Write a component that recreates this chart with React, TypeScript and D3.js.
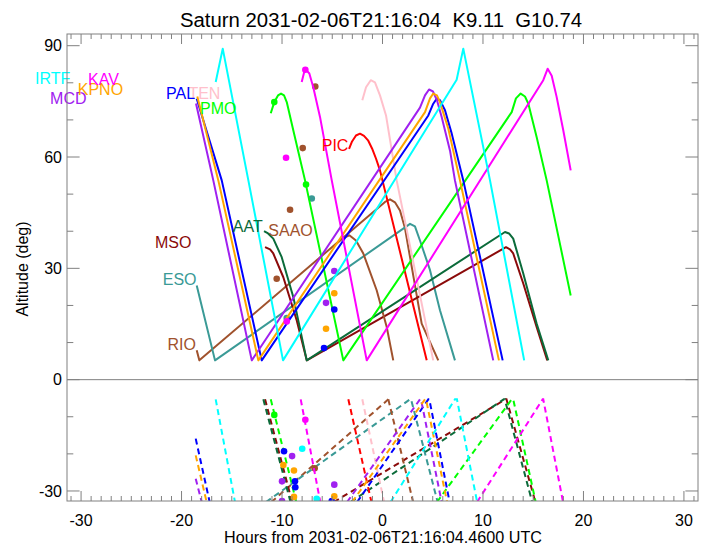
import React from 'react';
import * as d3 from 'd3';

const W = 708;
const H = 546;
const PLOT = { left: 67, right: 698, top: 34, bottom: 501 };

const xDomain: [number, number] = [-31.4, 31.4];
const yDomain: [number, number] = [-32.7, 93.15];
const xMajorTicks = [-30, -20, -10, 0, 10, 20, 30];
const yMajorTicks = [-30, 0, 30, 60, 90];
const xMinorTicks = d3.range(-31, 32, 1);
const yMinorTicks = d3.range(-30, 91, 10);

const titleText = 'Saturn 2031-02-06T21:16:04  K9.11  G10.74';
const xTitle = 'Hours from 2031-02-06T21:16:04.4600 UTC';
const yTitle = 'Altitude (deg)';

type Pt = [number, number];

// ---- solid (above-horizon) tracks: [hours, altitude] ----
const irtfSolid: Pt[] = [[-16.6, 80.2], [-15.9, 89.2], [-13.35, 53.7], [-9.9, 5.2], [7.38, 80.8], [8.04, 89.2], [10.7, 53.7], [14.1, 5.2]];
const kavSolid: Pt[] = [[-8.04, 80.2], [-7.71, 83.8], [-7.28, 82.5], [-6.89, 78.8], [-6.22, 70.8], [-5.05, 53.7], [-1.57, 5.2], [16.0, 80.7], [16.44, 83.8], [16.84, 81.9], [17.33, 76.2], [17.99, 67.2], [18.73, 56.4]];
const kpnoSolid: Pt[] = [[-18.43, 76.3], [-16.34, 53.7], [-12.36, 5.2], [4.23, 72.1], [4.73, 75.8], [5.05, 77.1], [5.42, 76.6], [5.72, 74.8], [6.55, 67.6], [7.71, 53.7], [11.59, 5.2]];
const mcdSolid: Pt[] = [[-18.56, 74.4], [-16.84, 53.7], [-13.01, 5.2], [3.73, 73.3], [4.23, 76.6], [4.63, 78.2], [5.02, 77.7], [5.42, 75.3], [5.89, 70.8], [6.72, 61.7], [7.21, 53.7], [11.02, 5.2]];
const palSolid: Pt[] = [[-18.49, 75.7], [-16.0, 53.7], [-12.02, 5.2], [4.56, 71.2], [5.02, 74.2], [5.39, 75.7], [5.72, 75.3], [6.22, 72.6], [6.89, 66.3], [8.04, 53.7], [11.96, 5.2]];
const tenSolid: Pt[] = [[-2.01, 75.3], [-1.64, 78.8], [-1.17, 80.7], [-0.75, 80.1], [-0.25, 76.6], [0.35, 71.2], [1.41, 53.7], [5.05, 5.2]];
const pmoSolid: Pt[] = [[-11.12, 71.8], [-10.77, 74.8], [-10.4, 76.6], [-10.1, 77.1], [-9.8, 76.6], [-9.53, 74.8], [-8.88, 67.2], [-7.71, 53.7], [-3.9, 5.2], [12.86, 72.1], [13.28, 75.8], [13.75, 77.1], [14.18, 76.3], [14.51, 74.4], [15.34, 65.4], [16.34, 53.7], [18.73, 22.7]];
const picSolid: Pt[] = [[-3.33, 62.2], [-3.03, 64.2], [-2.64, 65.8], [-2.24, 66.3], [-1.84, 65.7], [-1.44, 64.5], [-1.04, 62.3], [-0.65, 59.6], [-0.25, 56.4], [4.4, 5.2]];
const aatSolid: Pt[] = [[-11.79, 40.0], [-11.39, 39.4], [-10.87, 38.0], [-10.03, 33.0], [-8.88, 22.3], [-7.54, 5.2], [12.19, 39.8], [12.59, 39.4], [13.01, 38.0], [14.01, 28.6], [15.34, 15.1], [16.5, 5.2]];
const saaoSolid: Pt[] = [[-4.73, 36.3], [-4.03, 38.0], [-3.3, 38.9], [-2.64, 37.5], [-1.91, 34.0], [-0.58, 24.1], [0.42, 14.2], [1.07, 5.2]];
const msoSolid: Pt[] = [[-11.69, 35.7], [-11.19, 35.1], [-10.87, 34.0], [-9.87, 27.6], [-8.54, 16.0], [-7.54, 5.2], [12.29, 35.7], [12.69, 35.1], [13.01, 34.0], [14.01, 25.9], [15.34, 14.2], [16.4, 5.2]];
const esoSolid: Pt[] = [[-18.49, 25.4], [-16.67, 5.2], [2.74, 42.0], [3.23, 41.3], [3.73, 37.5], [4.73, 29.5], [5.72, 18.7], [7.21, 5.2]];
const rioSolid: Pt[] = [[-18.49, 7.9], [-18.23, 5.2], [0.25, 47.9], [0.75, 48.6], [1.24, 47.8], [1.74, 45.6], [2.24, 40.8], [2.74, 33.0], [3.9, 15.1], [5.55, 5.2]];

// ---- dashed (below-horizon) tracks ----
const irtfDashed: Pt[][] = [[[-16.6, -5.3], [-14.68, -33]], [[0.8, -33], [7.21, -5.3], [7.41, -5.3], [9.42, -33]]];
const kavDashed: Pt[][] = [[[-8.14, -5.3], [-6.19, -33]], [[9.41, -33], [15.94, -5.3], [16.0, -5.3], [17.97, -33]]];
const kpnoDashed: Pt[][] = [[[-18.59, -20.4], [-17.5, -33]], [[-3.03, -33], [4.23, -5.3], [4.33, -5.3], [6.43, -33]]];
const mcdDashed: Pt[][] = [[[-18.59, -26.7], [-17.99, -33]], [[-3.53, -33], [3.73, -5.3], [3.83, -5.3], [5.89, -33]]];
const palDashed: Pt[][] = [[[-18.59, -15.9], [-17.2, -33]], [[-2.53, -33], [4.56, -5.3], [4.66, -5.3], [6.68, -33]]];
const tenDashed: Pt[][] = [[[-2.01, -5.3], [0.16, -33]]];
const pmoDashed: Pt[][] = [[[-11.12, -5.3], [-8.58, -33]], [[5.42, -33], [12.86, -5.3], [13.01, -5.3], [15.25, -33]]];
const picDashed: Pt[][] = [[[-3.4, -5.3], [-1.1, -33]]];
const aatDashed: Pt[][] = [[[-11.86, -5.3], [-9.15, -33]], [[-3.18, -33], [12.07, -5.3], [12.17, -5.3], [14.9, -33]]];
const saaoDashed: Pt[][] = [[[0.58, -5.3], [3.05, -33]]];
const msoDashed: Pt[][] = [[[-11.69, -5.3], [-8.99, -33]], [[-4.86, -33], [12.24, -5.3], [12.34, -5.3], [15.22, -33]]];
const esoDashed: Pt[][] = [[[-11.6, -33], [2.74, -5.3], [2.84, -5.3], [5.49, -33]]];
const rioDashed: Pt[][] = [[[-11.07, -33], [0.58, -5.3]]];

// ---- markers ----
const irtfDots: Pt[] = [[-7.99, -18.6], [-6.55, -32.1]];
const kavDots: Pt[] = [[-7.68, 83.5], [-9.6, 59.8], [-9.53, 15.7], [-7.68, -10.8]];
const kpnoDots: Pt[] = [[-4.8, 23.3], [-5.62, 13.7], [-9.87, -23.0], [-8.81, -24.5], [-8.81, -31.6], [-4.8, -31.4]];
const mcdDots: Pt[] = [[-4.8, 29.3], [-5.62, 20.7], [-9.0, -20.6], [-10.0, -27.4], [-10.0, -32.7], [-4.8, -28.3]];
const palDots: Pt[] = [[-4.8, 18.9], [-5.82, 8.5], [-9.8, -19.3], [-8.71, -27.4], [-8.68, -29.0], [-5.05, -32.7]];
const pmoDots: Pt[] = [[-10.77, 74.8], [-7.61, 52.6], [-10.77, -9.5]];
const saaoDots: Pt[] = [[-6.69, 79.0], [-7.94, 62.4], [-9.2, 45.8], [-10.53, 27.2], [-6.75, -23.9]];
const esoDots: Pt[] = [[-7.04, 48.8], [-9.53, 16.6]];

// ---- label anchors (left, baseline) in data units ----
const stations = [
  { name: 'RIO', color: '#A0522D', solid: rioSolid, dashed: rioDashed, dots: [] as Pt[], label: [-21.41, 8.1] as Pt },
  { name: 'ESO', color: '#3A9A96', solid: esoSolid, dashed: esoDashed, dots: esoDots, label: [-21.87, 25.4] as Pt },
  { name: 'MSO', color: '#8B0A0A', solid: msoSolid, dashed: msoDashed, dots: [] as Pt[], label: [-22.64, 35.6] as Pt },
  { name: 'SAAO', color: '#A0522D', solid: saaoSolid, dashed: saaoDashed, dots: saaoDots, label: [-11.36, 38.6] as Pt },
  { name: 'AAT', color: '#0B6B3A', solid: aatSolid, dashed: aatDashed, dots: [] as Pt[], label: [-14.9, 39.8] as Pt },
  { name: 'PIC', color: '#FF0000', solid: picSolid, dashed: picDashed, dots: [] as Pt[], label: [-6.05, 61.6] as Pt },
  { name: 'PMO', color: '#00FF00', solid: pmoSolid, dashed: pmoDashed, dots: pmoDots, label: [-18.16, 71.7] as Pt },
  { name: 'TEN', color: '#FFC0CB', solid: tenSolid, dashed: tenDashed, dots: [] as Pt[], label: [-19.32, 75.5] as Pt },
  { name: 'PAL', color: '#0000FF', solid: palSolid, dashed: palDashed, dots: palDots, label: [-21.54, 75.5] as Pt },
  { name: 'MCD', color: '#A020F0', solid: mcdSolid, dashed: mcdDashed, dots: mcdDots, label: [-33.08, 74.2] as Pt },
  { name: 'KPNO', color: '#FFA500', solid: kpnoSolid, dashed: kpnoDashed, dots: kpnoDots, label: [-30.33, 76.6] as Pt },
  { name: 'KAV', color: '#FF00FF', solid: kavSolid, dashed: kavDashed, dots: kavDots, label: [-29.3, 79.5] as Pt },
  { name: 'IRTF', color: '#00FFFF', solid: irtfSolid, dashed: irtfDashed, dots: irtfDots, label: [-34.58, 79.7] as Pt },
];

const FONT = '"Liberation Sans", Arial, Helvetica, sans-serif';
const AXIS = '#808080';

export default function App() {
  const x = d3.scaleLinear().domain(xDomain).range([PLOT.left, PLOT.right]);
  const y = d3.scaleLinear().domain(yDomain).range([PLOT.bottom, PLOT.top]);
  const line = d3.line<Pt>().x((d) => x(d[0])).y((d) => y(d[1]));

  const xMajLen = 10, xMinLen = 5, yMajLen = 12.6, yMinLen = 6.3;

  return (
    <svg width={W} height={H} viewBox={`0 0 ${W} ${H}`} style={{ display: 'block', position: 'absolute', left: 0, top: 0, background: '#fff' }} fontFamily={FONT}>
      <defs>
        <clipPath id="plotClip">
          <rect x={PLOT.left} y={PLOT.top} width={PLOT.right - PLOT.left} height={PLOT.bottom - PLOT.top} />
        </clipPath>
      </defs>
      <rect x={0} y={0} width={W} height={H} fill="#fff" />

      {/* zero line */}
      <line x1={PLOT.left} x2={PLOT.right} y1={y(0)} y2={y(0)} stroke={AXIS} strokeWidth={1} />

      <g clipPath="url(#plotClip)">
        {stations.map((s) => (
          <g key={s.name}>
            {s.dashed.map((seg, i) => (
              <path key={i} d={line(seg) || ''} fill="none" stroke={s.color} strokeWidth={2} strokeDasharray="6,4" />
            ))}
            <path d={line(s.solid) || ''} fill="none" stroke={s.color} strokeWidth={2} strokeLinejoin="round" />
            {s.dots.map((d, i) => (
              <circle key={i} cx={x(d[0])} cy={y(d[1])} r={3.3} fill={s.color} />
            ))}
          </g>
        ))}
      </g>

      {/* station labels */}
      {stations.map((s) => (
        <text key={s.name} x={x(s.label[0])} y={y(s.label[1])} fill={s.color} fontSize={16}>{s.name}</text>
      ))}

      {/* frame */}
      <rect x={PLOT.left} y={PLOT.top} width={PLOT.right - PLOT.left} height={PLOT.bottom - PLOT.top} fill="none" stroke={AXIS} strokeWidth={1} />

      {/* ticks */}
      {xMinorTicks.map((t) => {
        const major = xMajorTicks.includes(t);
        const len = major ? xMajLen : xMinLen;
        return (
          <g key={'xt' + t}>
            <line x1={x(t)} x2={x(t)} y1={PLOT.bottom} y2={PLOT.bottom - len} stroke={AXIS} />
            <line x1={x(t)} x2={x(t)} y1={PLOT.top} y2={PLOT.top + len} stroke={AXIS} />
          </g>
        );
      })}
      {yMinorTicks.map((t) => {
        const major = yMajorTicks.includes(t);
        const len = major ? yMajLen : yMinLen;
        return (
          <g key={'yt' + t}>
            <line x1={PLOT.left} x2={PLOT.left + len} y1={y(t)} y2={y(t)} stroke={AXIS} />
            <line x1={PLOT.right} x2={PLOT.right - len} y1={y(t)} y2={y(t)} stroke={AXIS} />
          </g>
        );
      })}

      {/* tick labels */}
      {xMajorTicks.map((t) => (
        <text key={'xl' + t} x={x(t)} y={526} textAnchor="middle" fontSize={16} fill="#000">{t}</text>
      ))}
      {yMajorTicks.map((t) => (
        <text key={'yl' + t} x={62} y={y(t) + 5.7} textAnchor="end" fontSize={16} fill="#000">{t}</text>
      ))}

      {/* titles */}
      <text x={381} y={27} textAnchor="middle" fontSize={20} fill="#000" style={{ whiteSpace: 'pre' }} textLength={402} lengthAdjust="spacingAndGlyphs">{titleText}</text>
      <text x={383} y={543} textAnchor="middle" fontSize={16} fill="#000" textLength={318} lengthAdjust="spacingAndGlyphs">{xTitle}</text>
      <text transform={`translate(28,269) rotate(-90)`} textAnchor="middle" fontSize={16} fill="#000">{yTitle}</text>
    </svg>
  );
}
